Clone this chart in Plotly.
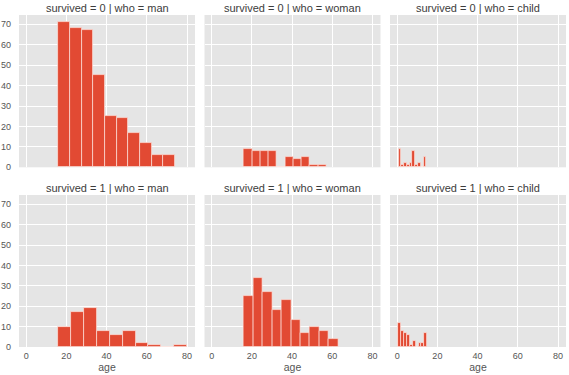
import numpy as np
import plotly.graph_objects as go

# ---- data ----
survived_levels = [0, 1]
who_levels = ["man", "woman", "child"]

# histogram bin range (min age, max age) per facet
range_s0_man = [16, 74]
range_s0_woman = [16, 57]
range_s0_child = [0.75, 14.5]
range_s1_man = [16, 80]
range_s1_woman = [16, 63]
range_s1_child = [0.42, 15]

# counts per bin (10 bins each)
counts_s0_man = [71, 68, 67, 45, 25, 24, 17, 12, 6, 6]
counts_s0_woman = [9, 8, 8, 8, 0, 5, 4, 5, 1, 1]
counts_s0_child = [9, 1, 2, 1, 2, 8, 1, 2, 0, 5]
counts_s1_man = [10, 17, 19, 8, 6, 8, 2, 1, 0, 1]
counts_s1_woman = [25, 34, 27, 18, 23, 13, 7, 10, 8, 4]
counts_s1_child = [12, 8, 7, 6, 1, 3, 0, 2, 2, 7]

x_ticks = [0, 20, 40, 60, 80]
y_ticks = [0, 10, 20, 30, 40, 50, 60, 70]
x_label = "age"

facets = {
    (0, "man"): (range_s0_man, counts_s0_man),
    (0, "woman"): (range_s0_woman, counts_s0_woman),
    (0, "child"): (range_s0_child, counts_s0_child),
    (1, "man"): (range_s1_man, counts_s1_man),
    (1, "woman"): (range_s1_woman, counts_s1_woman),
    (1, "child"): (range_s1_child, counts_s1_child),
}

# ---- layout geometry ----
W, H = 569, 375
col_px = [(19, 195), (204.5, 380.5), (390, 566)]
row_px = [(15, 167.3), (195, 347)]  # top/bottom in screen px

BAR = "#E24A33"
BG = "#E5E5E5"
TXT = "#555555"
FONT = "Liberation Sans, Arial, sans-serif"

x_lo, x_hi = 0.42, 80.0
xm = (x_hi - x_lo) * 0.05
x_range = [x_lo - xm, x_hi + xm]
y_max = max(max(c) for _, c in facets.values())
y_range = [0, y_max * 1.05]

fig = go.Figure()
annotations = []
idx = 0
for r, s in enumerate(survived_levels):
    for c, w in enumerate(who_levels):
        idx += 1
        xa = "x" if idx == 1 else f"x{idx}"
        ya = "y" if idx == 1 else f"y{idx}"
        rng, counts = facets[(s, w)]
        edges = np.linspace(rng[0], rng[1], len(counts) + 1)
        centers = (edges[:-1] + edges[1:]) / 2
        widths = np.diff(edges)
        fig.add_trace(go.Bar(
            x=centers, y=counts, width=widths,
            marker=dict(color=BAR, line=dict(color="rgba(255,230,225,0.85)", width=0.8)),
            xaxis=xa, yaxis=ya, showlegend=False, hoverinfo="x+y",
        ))
        x0, x1 = col_px[c]
        t, b = row_px[r]
        xkey = "xaxis" if idx == 1 else f"xaxis{idx}"
        ykey = "yaxis" if idx == 1 else f"yaxis{idx}"
        fig.layout[xkey] = dict(
            domain=[x0 / W, x1 / W], anchor=ya, range=x_range,
            tickvals=x_ticks, showticklabels=(r == 1), automargin=False,
            showgrid=True, gridcolor="white", gridwidth=1, zeroline=False,
            showline=False, ticks="", ticklabelstandoff=2,
            tickfont=dict(size=9, color=TXT, family=FONT),
            title=dict(text=x_label if r == 1 else "", font=dict(size=10.5, color=TXT, family=FONT), standoff=2),
        )
        fig.layout[ykey] = dict(
            domain=[1 - b / H, 1 - t / H], anchor=xa, range=y_range,
            tickvals=y_ticks, showticklabels=(c == 0), automargin=False,
            showgrid=True, gridcolor="white", gridwidth=1, zeroline=False,
            showline=False, ticks="", ticklabelstandoff=7,
            tickfont=dict(size=9, color=TXT, family=FONT),
        )
        annotations.append(dict(
            text=f"survived = {s} | who = {w}",
            x=(x0 + x1) / 2 / W, y=1 - (t - 7) / H, xref="paper", yref="paper",
            xanchor="center", yanchor="middle", showarrow=False,
            font=dict(size=11, color="#3c3c3c", family=FONT),
        ))

fig.update_layout(
    width=W, height=H, margin=dict(l=0, r=0, t=0, b=0),
    paper_bgcolor="white", plot_bgcolor=BG, bargap=0,
    annotations=annotations,
)

fig.write_html(
    "out.html",
    config={"displayModeBar": False},
    post_script="document.body.style.margin='0';document.body.style.overflow='hidden';",
)
